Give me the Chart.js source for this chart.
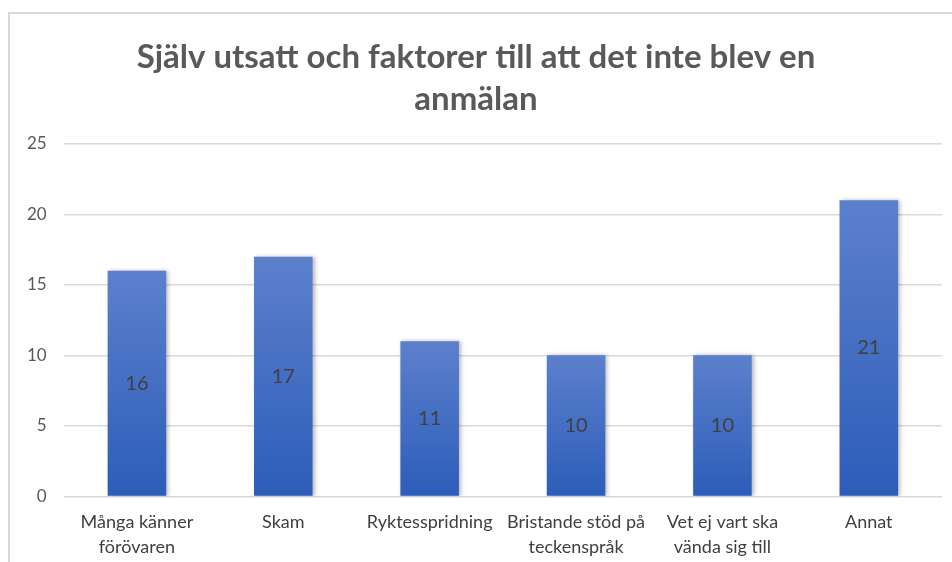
<!DOCTYPE html>
<html>
<head>
<meta charset="utf-8">
<script src="https://cdn.jsdelivr.net/npm/chart.js@4/dist/chart.umd.min.js"></script>
<style>
  html, body { margin: 0; padding: 0; background: #fff; }
  .wrap { position: relative; width: 952px; height: 562px; overflow: hidden; }
  .frame { position: absolute; left: 8px; top: 12px; right: -10px; bottom: -10px;
           border-top: 2px solid #d9d9d9; border-left: 2px solid #d9d9d9; }
  canvas { position: absolute; left: 0; top: 0; }
</style>
</head>
<body>
<div class="wrap">
  <div class="frame"></div>
  <canvas id="chart" width="952" height="562"></canvas>
</div>
<script>
const titleLines = ["Själv utsatt och faktorer till att det inte blev en", "anmälan"];
const categories = [
  ["Många känner", "förövaren"],
  "Skam",
  "Ryktesspridning",
  ["Bristande stöd på", "teckenspråk"],
  ["Vet ej vart ska", "vända sig till"],
  "Annat"
];
const values = [16, 17, 11, 10, 10, 21];
const yTicks = [0, 5, 10, 15, 20, 25];

const FONT = "Lato, 'Open Sans', sans-serif";

// gradient per bar, lighter at top
function barGradient(context) {
  const chart = context.chart;
  const yScale = chart.scales.y;
  if (!chart.chartArea || !yScale) return "#3d68c2";
  const v = context.raw;
  const top = yScale.getPixelForValue(v);
  const bottom = yScale.getPixelForValue(0);
  if (!isFinite(top) || !isFinite(bottom) || top === bottom) return "#3d68c2";
  const g = chart.ctx.createLinearGradient(0, top, 0, bottom);
  g.addColorStop(0, "#5c80cc");
  g.addColorStop(1, "#2c5db9");
  return g;
}

const barShadow = {
  id: "barShadow",
  beforeDatasetsDraw(chart) {
    const ctx = chart.ctx;
    ctx.save();
    ctx.shadowColor = "rgba(0,0,0,0.28)";
    ctx.shadowBlur = 4;
    ctx.shadowOffsetX = 2;
    ctx.shadowOffsetY = 0;
  },
  afterDatasetsDraw(chart) {
    chart.ctx.restore();
  }
};

const valueLabels = {
  id: "valueLabels",
  afterDatasetsDraw(chart) {
    const ctx = chart.ctx;
    const meta = chart.getDatasetMeta(0);
    ctx.save();
    ctx.font = "20px " + FONT;
    ctx.fillStyle = "#404040";
    ctx.textAlign = "center";
    ctx.textBaseline = "middle";
    meta.data.forEach((bar, i) => {
      const y = (bar.y + bar.base) / 2;
      ctx.fillText(String(values[i]), bar.x, y);
    });
    ctx.restore();
  }
};

new Chart(document.getElementById("chart").getContext("2d"), {
  type: "bar",
  plugins: [barShadow, valueLabels],
  data: {
    labels: categories,
    datasets: [{
      data: values,
      backgroundColor: barGradient,
      borderWidth: 0,
      categoryPercentage: 1,
      barPercentage: 0.4
    }]
  },
  options: {
    responsive: false,
    animation: false,
    layout: { padding: { top: 12, left: 10, right: 10, bottom: -11 } },
    plugins: {
      legend: { display: false },
      tooltip: { enabled: false },
      title: {
        display: true,
        text: titleLines,
        color: "#595959",
        font: { family: FONT, size: 33, weight: "bold", lineHeight: 1.27 },
        padding: { top: 24, bottom: 24 }
      }
    },
    scales: {
      x: {
        grid: { display: false, drawTicks: false },
        border: { display: false },
        ticks: {
          color: "#404040",
          font: { family: FONT, size: 18, lineHeight: 1.35 },
          padding: 14,
          maxRotation: 0,
          autoSkip: false
        }
      },
      y: {
        min: 0,
        max: 25,
        afterBuildTicks(axis) { axis.ticks = yTicks.map(v => ({ value: v })); },
        grid: { color: "#d9d9d9", lineWidth: 1.5, drawTicks: false },
        border: { display: false },
        ticks: {
          color: "#595959",
          font: { family: FONT, size: 17 },
          padding: 17
        }
      }
    }
  }
});
</script>
</body>
</html>
